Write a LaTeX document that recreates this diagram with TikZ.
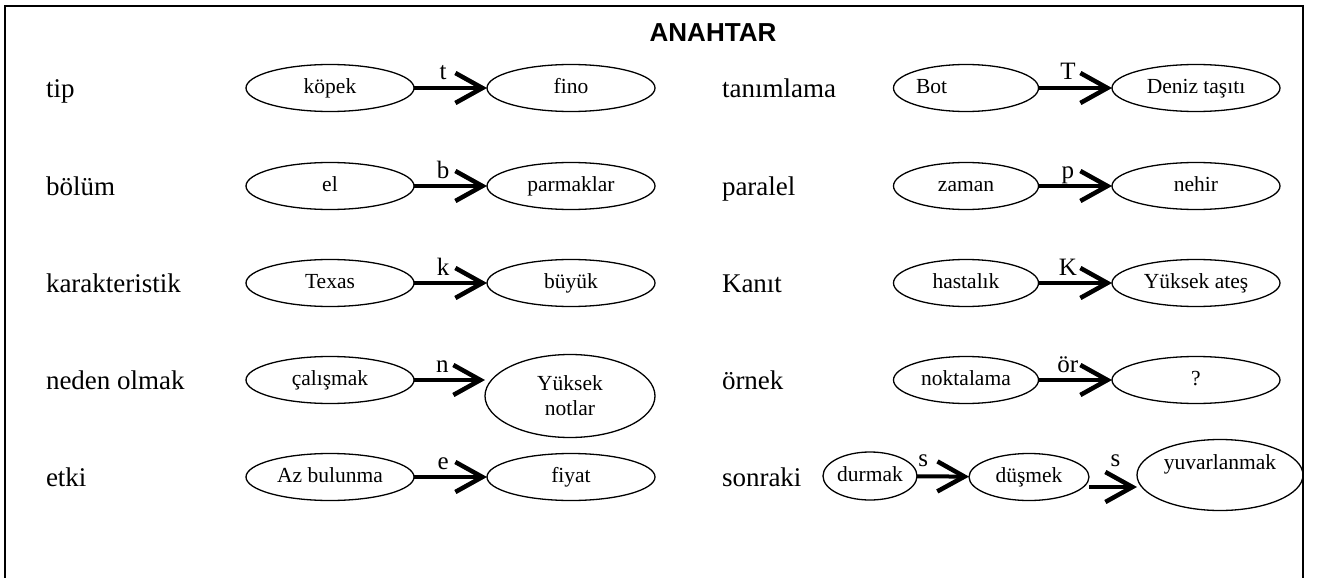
\documentclass[tikz,border=0pt]{standalone}
\usepackage{fontspec}
\setmainfont{Liberation Serif}
\newfontfamily\titlefont{Liberation Sans}
\usetikzlibrary{shapes.geometric,arrows.meta}
\begin{document}
\begin{tikzpicture}[x=1pt,y=-1pt,
  every node/.style={inner sep=0pt, outer sep=0pt},
  concept/.style={ellipse, draw, line width=1.3pt, minimum width=168pt, minimum height=47pt, font=\fontsize{21.5}{25}\selectfont, align=center, text height=15pt, text depth=5pt},
  keylabel/.style={anchor=base west, font=\fontsize{27}{31}\selectfont},
  rel/.style={line width=4pt, -{Straight Barb[length=27pt,width=30pt,line width=4.5pt]}},
  rellabel/.style={anchor=base, font=\fontsize{25}{29}\selectfont},
  frame/.style={line width=1.5pt}
]
\useasboundingbox (0,0) rectangle (1318,578);
\draw[frame] (5,578) -- (5,6) -- (1303,6) -- (1303,578);
\node[font=\titlefont\bfseries\fontsize{26}{30}\selectfont] (title) at (713,33) {ANAHTAR};

% left column
\node[keylabel] (k1) at (46,97) {tip};
\node[concept] (a1) at (330,88) {köpek};
\node[concept] (b1) at (571,88) {fino};
\draw[rel] (a1) -- node[rellabel,pos=0.4,yshift=8pt] (l1) {t} (b1);

\node[keylabel] (k2) at (46,195) {bölüm};
\node[concept] (a2) at (330,186) {el};
\node[concept] (b2) at (571,186) {parmaklar};
\draw[rel] (a2) -- node[rellabel,pos=0.4,yshift=8pt] (l2) {b} (b2);

\node[keylabel] (k3) at (46,292) {karakteristik};
\node[concept] (a3) at (330,283) {Texas};
\node[concept] (b3) at (571,283) {büyük};
\draw[rel] (a3) -- node[rellabel,pos=0.4,yshift=8pt] (l3) {k} (b3);

\node[keylabel] (k4) at (46,389) {neden olmak};
\node[concept] (a4) at (330,380) {çalışmak};
\node[concept, minimum width=170pt, minimum height=83pt, text height=, text depth=] (b4) at (570,396) {Yüksek\\notlar};
\draw[rel] (a4) -- node[rellabel,pos=0.4,yshift=8pt] (l4) {n} (a4 -| b4.west);

\node[keylabel] (k5) at (46,486) {etki};
\node[concept] (a5) at (330,477) {Az bulunma};
\node[concept] (b5) at (571,477) {fiyat};
\draw[rel] (a5) -- node[rellabel,pos=0.4,yshift=8pt] (l5) {e} (b5);

% right column
\node[keylabel] (k6) at (722,97) {tanımlama};
\node[concept, minimum width=145pt, text width=100pt, align=left] (c1) at (966,88) {Bot};
\node[concept] (e1) at (1196,88) {Deniz taşıtı};
\draw[rel] (c1) -- node[rellabel,pos=0.4,yshift=8pt] (l6) {T} (e1);

\node[keylabel] (k7) at (722,195) {paralel};
\node[concept, minimum width=145pt] (c2) at (966,186) {zaman};
\node[concept] (e2) at (1196,186) {nehir};
\draw[rel] (c2) -- node[rellabel,pos=0.4,yshift=8pt] (l7) {p} (e2);

\node[keylabel] (k8) at (722,292) {Kanıt};
\node[concept, minimum width=145pt] (c3) at (966,283) {hastalık};
\node[concept] (e3) at (1196,283) {Yüksek ateş};
\draw[rel] (c3) -- node[rellabel,pos=0.4,yshift=8pt] (l8) {K} (e3);

\node[keylabel] (k9) at (722,389) {örnek};
\node[concept, minimum width=145pt] (c4) at (966,380) {noktalama};
\node[concept] (e4) at (1196,380) {?};
\draw[rel] (c4) -- node[rellabel,pos=0.4,yshift=8pt] (l9) {ör} (e4);

\node[keylabel] (k10) at (722,486) {sonraki};
\node[concept, minimum width=94pt, minimum height=48pt] (d1) at (870,476) {durmak};
\node[concept, minimum width=120pt] (d2) at (1029,477) {düşmek};
\node[concept, minimum width=166pt, minimum height=71pt, text height=15pt, text depth=26pt] (d3) at (1220,475) {yuvarlanmak};
\draw[rel] (d1) -- node[rellabel,pos=0.12,yshift=10pt] (l10) {s} (d2);
\draw[rel] ([yshift=-10pt]d2.east) -- node[rellabel,pos=0.55,yshift=21pt] (l11) {s} ([yshift=-12pt]d3.west);
\end{tikzpicture}
\end{document}
